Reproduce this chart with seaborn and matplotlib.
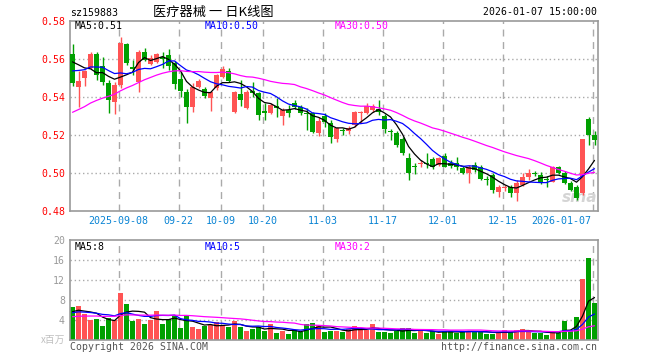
import numpy as np
import pandas as pd
import matplotlib
matplotlib.use("Agg")
import matplotlib.pyplot as plt
import seaborn as sns

# ---------------- data ----------------
opens = [0.5626, 0.5453, 0.5498, 0.5551, 0.5626, 0.5563, 0.5474, 0.5375, 0.5463, 0.5679,
         0.5558, 0.5479, 0.5637, 0.5574, 0.5584, 0.5611, 0.5621, 0.5579, 0.5495, 0.5426,
         0.5347, 0.5453, 0.5442, 0.5395, 0.5447, 0.5505, 0.5537, 0.5321, 0.5416, 0.5342,
         0.5433, 0.5421, 0.5326, 0.5316, 0.5353, 0.5300, 0.5332, 0.5368, 0.5347, 0.5316,
         0.5316, 0.5211, 0.5300, 0.5263, 0.5179, 0.5226, 0.5221, 0.5253, 0.5316, 0.5316,
         0.5332, 0.5337, 0.5300, 0.5221, 0.5211, 0.5179, 0.5079, 0.5037, 0.5050, 0.5053,
         0.5074, 0.5042, 0.5089, 0.5053, 0.5053, 0.5026, 0.5000, 0.5042, 0.5032, 0.4968,
         0.4989, 0.4900, 0.4921, 0.4926, 0.4895, 0.4937, 0.4979, 0.5000, 0.4989, 0.4968,
         0.4953, 0.5032, 0.5000, 0.4947, 0.4926, 0.4895, 0.5284, 0.5200]
highs = [0.5679, 0.5538, 0.5542, 0.5638, 0.5638, 0.5611, 0.5489, 0.5479, 0.5717, 0.5684,
         0.5595, 0.5647, 0.5659, 0.5621, 0.5632, 0.5637, 0.5653, 0.5589, 0.5533, 0.5442,
         0.5474, 0.5495, 0.5454, 0.5432, 0.5521, 0.5563, 0.5553, 0.5432, 0.5489, 0.5437,
         0.5481, 0.5426, 0.5368, 0.5368, 0.5395, 0.5342, 0.5358, 0.5384, 0.5358, 0.5342,
         0.5321, 0.5295, 0.5316, 0.5279, 0.5242, 0.5237, 0.5247, 0.5326, 0.5326, 0.5370,
         0.5363, 0.5384, 0.5311, 0.5232, 0.5221, 0.5189, 0.5105, 0.5053, 0.5068, 0.5105,
         0.5084, 0.5084, 0.5105, 0.5068, 0.5084, 0.5037, 0.5042, 0.5058, 0.5042, 0.4984,
         0.5000, 0.4937, 0.4937, 0.4937, 0.4963, 0.5000, 0.5021, 0.5011, 0.5005, 0.4984,
         0.5037, 0.5037, 0.5011, 0.4958, 0.4937, 0.5179, 0.5295, 0.5221]
lows = [0.5458, 0.5349, 0.5458, 0.5549, 0.5489, 0.5463, 0.5316, 0.5311, 0.5447, 0.5570,
        0.5516, 0.5428, 0.5590, 0.5568, 0.5579, 0.5553, 0.5542, 0.5442, 0.5402, 0.5263,
        0.5321, 0.5447, 0.5395, 0.5326, 0.5437, 0.5500, 0.5479, 0.5316, 0.5353, 0.5337,
        0.5402, 0.5279, 0.5279, 0.5311, 0.5295, 0.5253, 0.5295, 0.5337, 0.5305, 0.5226,
        0.5211, 0.5195, 0.5242, 0.5158, 0.5163, 0.5200, 0.5205, 0.5242, 0.5263, 0.5311,
        0.5321, 0.5305, 0.5211, 0.5174, 0.5137, 0.5095, 0.4963, 0.4995, 0.5032, 0.5026,
        0.5021, 0.5037, 0.5032, 0.5026, 0.5016, 0.4995, 0.4947, 0.5005, 0.4963, 0.4937,
        0.4895, 0.4874, 0.4905, 0.4874, 0.4853, 0.4932, 0.4963, 0.4984, 0.4942, 0.4926,
        0.4953, 0.4995, 0.4942, 0.4905, 0.4858, 0.4884, 0.5147, 0.5147]
closes = [0.5474, 0.5484, 0.5538, 0.5626, 0.5516, 0.5479, 0.5384, 0.5463, 0.5682, 0.5577,
          0.5547, 0.5637, 0.5595, 0.5605, 0.5626, 0.5600, 0.5563, 0.5468, 0.5432, 0.5347,
          0.5453, 0.5484, 0.5405, 0.5426, 0.5516, 0.5547, 0.5484, 0.5426, 0.5384, 0.5426,
          0.5423, 0.5305, 0.5316, 0.5358, 0.5342, 0.5332, 0.5316, 0.5347, 0.5316, 0.5311,
          0.5217, 0.5274, 0.5268, 0.5189, 0.5237, 0.5221, 0.5237, 0.5321, 0.5321, 0.5353,
          0.5353, 0.5321, 0.5232, 0.5216, 0.5147, 0.5105, 0.5000, 0.5032, 0.5055, 0.5047,
          0.5032, 0.5079, 0.5032, 0.5037, 0.5032, 0.5000, 0.5032, 0.5016, 0.4968, 0.4963,
          0.4911, 0.4926, 0.4926, 0.4895, 0.4947, 0.4979, 0.5000, 0.4995, 0.4953, 0.4963,
          0.5032, 0.5000, 0.4947, 0.4911, 0.4868, 0.5179, 0.5200, 0.5174]
volumes = [6.7, 6.8, 5.2, 4.05, 4.25, 2.85, 4.45, 4.05, 9.5, 7.25,
           3.85, 4.2, 3.25, 4.05, 5.85, 3.25, 4.2, 4.85, 2.5, 4.85,
           2.7, 2.25, 2.9, 3.05, 3.6, 3.0, 2.7, 3.9, 2.6, 1.9,
           2.2, 2.6, 1.9, 3.25, 1.5, 1.9, 1.3, 2.05, 1.7, 3.25,
           3.4, 3.05, 1.7, 1.85, 1.85, 1.7, 2.25, 2.85, 2.05, 2.05,
           3.25, 1.7, 1.7, 1.5, 1.9, 2.4, 2.4, 1.5, 1.9, 1.5,
           1.9, 1.25, 1.85, 1.85, 1.5, 1.85, 1.85, 1.85, 1.7, 1.25,
           1.25, 1.7, 2.05, 1.7, 2.05, 2.25, 1.7, 1.5, 1.5, 1.05,
           1.85, 1.5, 3.9, 1.85, 4.7, 12.2, 16.35, 7.5]
# closes / volumes of the sessions just before the window (estimated from the MA lines)
prior_closes = [0.505, 0.508, 0.506, 0.510, 0.512, 0.509, 0.513, 0.515, 0.512, 0.516,
                0.518, 0.515, 0.524, 0.526, 0.530, 0.534, 0.532, 0.540, 0.546, 0.550,
                0.546, 0.550, 0.548, 0.552, 0.549, 0.556, 0.562, 0.565, 0.562]
prior_volumes = [3.8, 4.5, 3.6, 4.2, 5.1, 3.9, 4.0, 4.6, 3.5, 4.4,
                 4.8, 3.7, 4.3, 5.0, 4.1, 4.6, 3.9, 4.7, 4.5, 4.8,
                 5.0, 5.8, 4.9, 5.6, 5.2, 5.3, 6.1, 4.9, 5.5]
price_ticks = [0.48, 0.50, 0.52, 0.54, 0.56, 0.58]
vol_ticks = [0, 4, 8, 12, 16, 20]
date_labels = ["2025-09-08", "09-22", "10-09", "10-20", "11-03", "11-17", "12-01", "12-15", "2026-01-07"]
date_index = [8, 18, 25, 32, 42, 52, 62, 72, 87]

# ---------------- derived ----------------
n = len(closes)
idx = np.arange(n)
allc = pd.Series(prior_closes + closes)
allv = pd.Series(prior_volumes + volumes)
ma = {w: allc.rolling(w).mean().iloc[-n:].to_numpy() for w in (5, 10, 30)}
vma = {w: allv.rolling(w).mean().iloc[-n:].to_numpy() for w in (5, 10, 30)}
df = pd.DataFrame({"i": idx, "o": opens, "h": highs, "l": lows, "c": closes, "v": volumes,
                   "ma5": ma[5], "ma10": ma[10], "ma30": ma[30],
                   "vma5": vma[5], "vma10": vma[10], "vma30": vma[30]})

sns.set_theme(style="white")
plt.rcParams["font.family"] = ["DejaVu Sans Mono", "Noto Sans CJK SC"]
MONO = "DejaVu Sans Mono"
CJK = ["Noto Sans CJK SC", "DejaVu Sans"]

RED = "#ff5454"
GREEN = "#00a000"
GRID = "#aaaaaa"
SPINE = "#999999"
LW = 0.9

W, H = 660, 360
fig = plt.figure(figsize=(6.6, 3.6), dpi=100)
ax = fig.add_axes([70 / W, 149 / H, 528 / W, 190 / H])
axv = fig.add_axes([70 / W, 19.7 / H, 528 / W, 100.3 / H])

up = df["c"] >= df["o"]
colors = np.where(up, RED, GREEN)
GRID_SHIFT = -0.33

for a in (ax, axv):
    a.set_xlim(-0.417, n - 0.417)
    a.set_xticks([])
    for s in a.spines.values():
        s.set_color(SPINE)
        s.set_linewidth(1.2)
    for d in date_index:
        a.axvline(d + GRID_SHIFT, color=GRID, lw=1, ls=(0, (5, 4)), zorder=0)

# ---- price panel ----
ax.set_ylim(price_ticks[0], price_ticks[-1])
for p in price_ticks[1:-1]:
    ax.axhline(p, color=GRID, lw=1, ls=(0, (1, 2)), zorder=0)
ax.text(0.998, 0.07, "sina", transform=ax.transAxes, ha="right", va="center",
        fontsize=11, fontweight="bold", style="italic", color="#d4d4d4",
        family="DejaVu Sans", zorder=0.5)

ax.vlines(df["i"], df["l"], df["h"], colors=colors, lw=1, zorder=2)
body_bottom = np.minimum(df["o"], df["c"])
body_h = np.maximum(np.abs(df["c"] - df["o"]), 0.0004)
ax.bar(df["i"], body_h, bottom=body_bottom, width=0.8, color=colors, linewidth=0, zorder=3)

sns.lineplot(data=df, x="i", y="ma5", ax=ax, color="black", lw=LW, zorder=4)
sns.lineplot(data=df, x="i", y="ma10", ax=ax, color="#0000ff", lw=LW, zorder=4)
sns.lineplot(data=df, x="i", y="ma30", ax=ax, color="#ff00ff", lw=LW, zorder=4)
ax.set_xlabel("")
ax.set_ylabel("")
ax.set_xlim(-0.417, n - 0.417)
ax.set_yticks(price_ticks)
ax.set_yticklabels([f"{p:.2f}" for p in price_ticks])
ax.tick_params(axis="y", length=0, pad=3.6, labelcolor="red", labelsize=7.1)
for t in ax.get_yticklabels():
    t.set_family(MONO)

# date labels
for d, lab in zip(date_index, date_labels):
    ha = "right" if d == date_index[-1] else "center"
    ax.text(d + GRID_SHIFT + (-0.2 if ha == "right" else 0), -0.053, lab,
            transform=ax.get_xaxis_transform(), ha=ha, va="center",
            color="#0a84d4", fontsize=7.2, family=MONO)

ax.text(5 / 528, 1 - 5 / 190, f"MA5:{ma[5][-1]:.2f}", transform=ax.transAxes, ha="left", va="center",
        color="black", fontsize=7.1, family=MONO)
ax.text(135 / 528, 1 - 5 / 190, f"MA10:{ma[10][-1]:.2f}", transform=ax.transAxes, ha="left", va="center",
        color="#0000ff", fontsize=7.1, family=MONO)
ax.text(265 / 528, 1 - 5 / 190, f"MA30:{ma[30][-1]:.2f}", transform=ax.transAxes, ha="left", va="center",
        color="#ff00ff", fontsize=7.1, family=MONO)

# ---- volume panel ----
axv.set_ylim(vol_ticks[0], vol_ticks[-1])
for v in vol_ticks[1:-1]:
    axv.axhline(v, color=GRID, lw=1, ls=(0, (1, 2)), zorder=0)
axv.bar(df["i"], df["v"], width=0.83, color=colors, linewidth=0, zorder=2)
sns.lineplot(data=df, x="i", y="vma5", ax=axv, color="black", lw=LW, zorder=4)
sns.lineplot(data=df, x="i", y="vma10", ax=axv, color="#0000ff", lw=LW, zorder=4)
sns.lineplot(data=df, x="i", y="vma30", ax=axv, color="#ff00ff", lw=LW, zorder=4)
axv.set_xlabel("")
axv.set_ylabel("")
axv.set_xlim(-0.417, n - 0.417)
axv.set_ylim(vol_ticks[0], vol_ticks[-1])
axv.set_yticks(vol_ticks)
axv.set_yticklabels([""] + [str(v) for v in vol_ticks[1:]])
axv.tick_params(axis="y", length=0, pad=3.6, labelcolor="#9a9a9a", labelsize=7.1)
for t in axv.get_yticklabels():
    t.set_family(MONO)
axv.text(-5 / 528, 0.0, "x百万", transform=axv.transAxes, ha="right", va="center",
         color="#c0c0c0", fontsize=7, family=CJK)

axv.text(5 / 528, 1 - 6.5 / 100.3, f"MA5:{int(vma[5][-1])}", transform=axv.transAxes, ha="left", va="center",
         color="black", fontsize=7.1, family=MONO)
axv.text(135 / 528, 1 - 6.5 / 100.3, f"MA10:{int(vma[10][-1])}", transform=axv.transAxes, ha="left", va="center",
         color="#0000ff", fontsize=7.1, family=MONO)
axv.text(265 / 528, 1 - 6.5 / 100.3, f"MA30:{int(vma[30][-1])}", transform=axv.transAxes, ha="left", va="center",
         color="#ff00ff", fontsize=7.1, family=MONO)

# ---- header / footer ----
fig.text(70 / W, 1 - 12.5 / H, "sz159883", ha="left", va="center", fontsize=7.1, family=MONO, color="black")
fig.text(213 / W, 1 - 12.5 / H, "医疗器械 一 日K线图", ha="center", va="center", fontsize=9.5,
         family=CJK, color="black")
fig.text(597 / W, 1 - 12 / H, "2026-01-07 15:00:00", ha="right", va="center", fontsize=7.1,
         family=MONO, color="black")
fig.text(70 / W, 1 - 346.5 / H, "Copyright 2026 SINA.COM", ha="left", va="center", fontsize=7.1,
         family=MONO, color="#555555")
fig.text(597 / W, 1 - 346.5 / H, "http://finance.sina.com.cn", ha="right", va="center", fontsize=7.1,
         family=MONO, color="#555555")

fig.savefig("out.png", dpi=100, facecolor="white")
